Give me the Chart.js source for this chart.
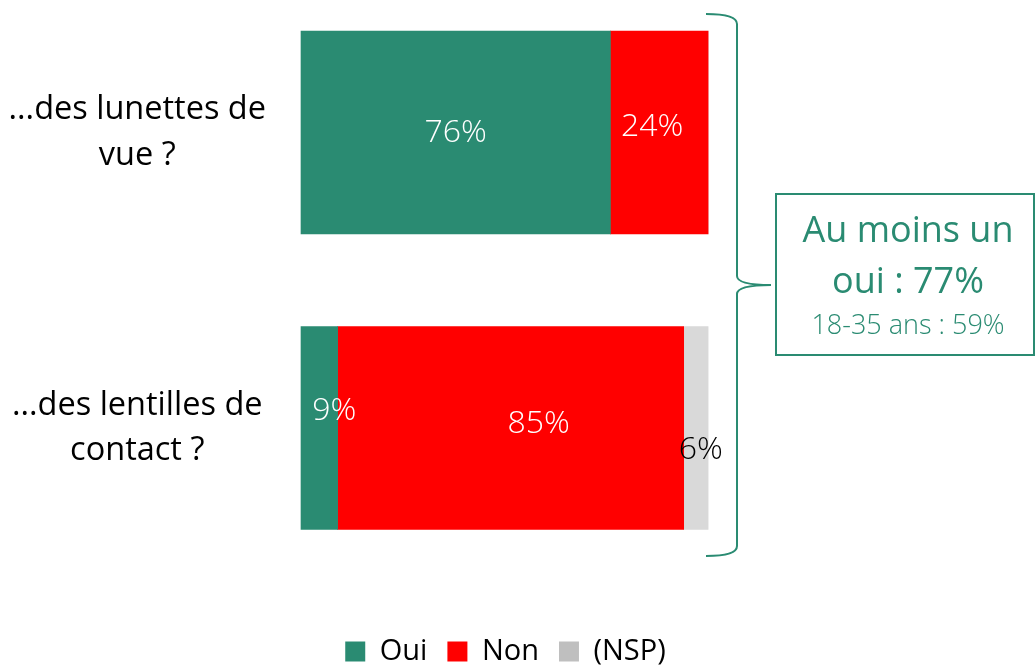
<!DOCTYPE html>
<html>
<head>
<meta charset="utf-8">
<script src="https://cdn.jsdelivr.net/npm/chart.js@4/dist/chart.umd.min.js"></script>
<style>
  html, body { margin: 0; padding: 0; background: #fff; }
  #wrap { width: 1035px; height: 668px; position: relative; }
</style>
</head>
<body>
<div id="wrap"><canvas id="chart"></canvas></div>
<script>
const categories = [['...des lunettes de', 'vue ?'], ['...des lentilles de', 'contact ?']];
const seriesNames = ['Oui', 'Non', '(NSP)'];
const ouiValues = [76, 9];
const nonValues = [24, 85];
const nspValues = [0, 6];
const summaryLines = ['Au moins un', 'oui : 77%', '18-35 ans : 59%'];

const GREEN = '#2A8B72';
const RED = '#FF0000';
const GREY = '#D9D9D9';
const FONT = '"Open Sans", "Liberation Sans", sans-serif';

// nudges for value labels, keyed "dataset-index"
const labelNudge = {
  '1-0': [-7, -6],
  '0-1': [15, -17],
  '1-1': [28, -4],
  '2-1': [5, 22]
};

const valueLabels = {
  id: 'valueLabels',
  afterDatasetsDraw(chart) {
    const ctx = chart.ctx;
    ctx.save();
    ctx.font = '300 32px ' + FONT;
    ctx.textAlign = 'center';
    ctx.textBaseline = 'middle';
    chart.data.datasets.forEach((ds, di) => {
      chart.getDatasetMeta(di).data.forEach((bar, i) => {
        const v = ds.data[i];
        if (!v) return;
        const n = labelNudge[di + '-' + i] || [0, 0];
        const cx = (bar.x + bar.base) / 2 + n[0];
        ctx.fillStyle = di === 2 ? '#000' : '#fff';
        ctx.fillText(v + '%', cx, bar.y + n[1]);
      });
    });
    ctx.restore();
  }
};

const summaryBox = {
  id: 'summaryBox',
  afterDraw(chart) {
    const ctx = chart.ctx;
    ctx.save();
    ctx.strokeStyle = GREEN;
    ctx.lineWidth = 2;
    // brace
    ctx.beginPath();
    ctx.moveTo(706, 14);
    ctx.quadraticCurveTo(737, 14, 737, 24);
    ctx.lineTo(737, 276);
    ctx.quadraticCurveTo(737, 285, 771, 285);
    ctx.moveTo(737, 294);
    ctx.quadraticCurveTo(737, 285, 771, 285);
    ctx.moveTo(737, 294);
    ctx.lineTo(737, 546);
    ctx.quadraticCurveTo(737, 556, 706, 556);
    ctx.stroke();
    // box
    ctx.strokeRect(776, 194, 258, 161);
    ctx.fillStyle = GREEN;
    ctx.textAlign = 'center';
    ctx.textBaseline = 'middle';
    ctx.font = '36px ' + FONT;
    ctx.fillText(summaryLines[0], 908, 232);
    ctx.fillText(summaryLines[1], 908, 283);
    ctx.font = '300 27px ' + FONT;
    ctx.fillText(summaryLines[2], 908, 326);
    ctx.restore();
  }
};

new Chart(document.getElementById('chart'), {
  type: 'bar',
  data: {
    labels: categories,
    datasets: [
      { label: seriesNames[0], data: ouiValues, backgroundColor: GREEN },
      { label: seriesNames[1], data: nonValues, backgroundColor: RED },
      { label: seriesNames[2], data: nspValues, backgroundColor: GREY }
    ]
  },
  options: {
    indexAxis: 'y',
    responsive: true,
    maintainAspectRatio: false,
    animation: false,
    layout: { padding: { top: 132.5, right: 24, bottom: -8, left: 0 } },
    datasets: { bar: { barThickness: 203, borderWidth: 0, clip: false } },
    scales: {
      x: {
        stacked: true,
        min: 0,
        max: 174.4,
        ticks: { display: false },
        grid: { display: false },
        border: { display: false },
        afterFit(s) { s.height = 189; }
      },
      y: {
        stacked: true,
        offset: false,
        grid: { display: false },
        border: { display: false },
        ticks: {
          color: '#000',
          padding: 27,
          crossAlign: 'center',
          font: { family: FONT, size: 32.5, weight: 400, lineHeight: 1.4 }
        },
        afterFit(s) { s.width = 301; }
      }
    },
    plugins: {
      tooltip: { enabled: false },
      legend: {
        position: 'bottom',
        labels: {
          color: '#000',
          boxWidth: 20,
          boxHeight: 20,
          padding: 20,
          font: { family: FONT, size: 29, weight: 400 },
          generateLabels(chart) {
            const fills = [GREEN, RED, '#BFBFBF'];
            return chart.data.datasets.map((ds, i) => ({
              text: ds.label,
              fillStyle: fills[i],
              strokeStyle: fills[i],
              lineWidth: 0,
              fontColor: '#000',
              datasetIndex: i
            }));
          }
        }
      }
    }
  },
  plugins: [valueLabels, summaryBox]
});
</script>
</body>
</html>
